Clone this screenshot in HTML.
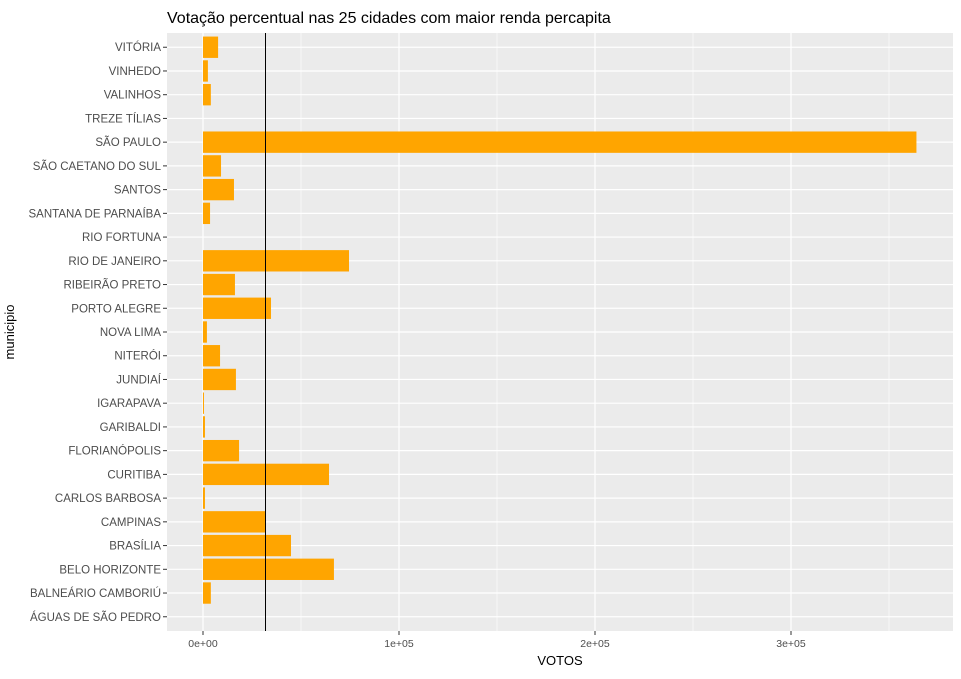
<!DOCTYPE html>
<html><head><meta charset="utf-8"><style>
body{margin:0;background:#fff;font-family:"Liberation Sans",Arial,sans-serif}
</style></head><body>
<svg id="c" width="961" height="674" xmlns="http://www.w3.org/2000/svg"></svg>
<script>
const categories=["VITÓRIA","VINHEDO","VALINHOS","TREZE TÍLIAS","SÃO PAULO","SÃO CAETANO DO SUL","SANTOS","SANTANA DE PARNAÍBA","RIO FORTUNA","RIO DE JANEIRO","RIBEIRÃO PRETO","PORTO ALEGRE","NOVA LIMA","NITERÓI","JUNDIAÍ","IGARAPAVA","GARIBALDI","FLORIANÓPOLIS","CURITIBA","CARLOS BARBOSA","CAMPINAS","BRASÍLIA","BELO HORIZONTE","BALNEÁRIO CAMBORIÚ","ÁGUAS DE SÃO PEDRO"];
const votes=[7700,2500,4000,0,364000,9200,15800,3600,0,74500,16300,34700,2000,8700,16800,500,1000,18400,64300,1000,32000,44900,66800,4000,0];
const xTicks=[0,100000,200000,300000];
const xTickLabels=["0e+00","1e+05","2e+05","3e+05"];
const meanLine=31600;
const svg=document.getElementById('c');const NS="http://www.w3.org/2000/svg";
const L=167,R=953,T=33,B=631;
const x0=203,pxPer=196/100000;
const X=v=>x0+v*pxPer;
const step=(B-T)/(categories.length+0.2);
const Y=i=>T+0.6*step+i*step;
function mk(t,a,p){const e=document.createElementNS(NS,t);for(const k in a)e.setAttribute(k,a[k]);(p||svg).appendChild(e);return e;}
let e=mk('rect',{x:L,y:T,width:R-L,height:B-T,fill:'#ebebeb'});

for(let i=0;i<xTicks.length;i++){const m=xTicks[i]+50000;const g=mk('line',{x1:X(m),x2:X(m),y1:T,y2:B,stroke:'#fff','stroke-width':0.6});}
xTicks.forEach((t,i)=>{let g=mk('line',{x1:X(t),x2:X(t),y1:T,y2:B,stroke:'#fff','stroke-width':1.2});
let k=mk('line',{x1:X(t),x2:X(t),y1:B,y2:B+4,stroke:'#333'});
let tx=mk('text',{x:X(t),y:B+16,'text-anchor':'middle','font-size':10.5,fill:'#4d4d4d'});tx.textContent=xTickLabels[i];});
categories.forEach((c,i)=>{const y=Y(i);
let g=mk('line',{x1:L,x2:R,y1:y,y2:y,stroke:'#fff','stroke-width':1.2});
let k=mk('line',{x1:L-4,x2:L,y1:y,y2:y,stroke:'#333'});
let tx=mk('text',{x:L-6,y:y+4,'text-anchor':'end','font-size':11.5,fill:'#4d4d4d'});tx.textContent=c;
const h=step*0.9;let b=mk('rect',{x:X(0),y:y-h/2,width:Math.max(0,X(votes[i])-X(0)),height:h,fill:'#ffa500'});});
e=mk('line',{x1:Math.round(X(meanLine))+0.5,x2:Math.round(X(meanLine))+0.5,y1:T,y2:B,stroke:'#000','stroke-width':1,'shape-rendering':'crispEdges'});
e=mk('text',{x:L,y:23,'font-size':16,fill:'#000'});e.textContent="Votação percentual nas 25 cidades com maior renda percapita";
e=mk('text',{x:(L+R)/2,y:665,'text-anchor':'middle','font-size':13,fill:'#000'});e.textContent="VOTOS";
e=mk('text',{x:0,y:0,'text-anchor':'middle','font-size':13,fill:'#000',transform:`translate(14,${(T+B)/2}) rotate(-90)`});e.textContent="municipio";
</script>
</body></html>
